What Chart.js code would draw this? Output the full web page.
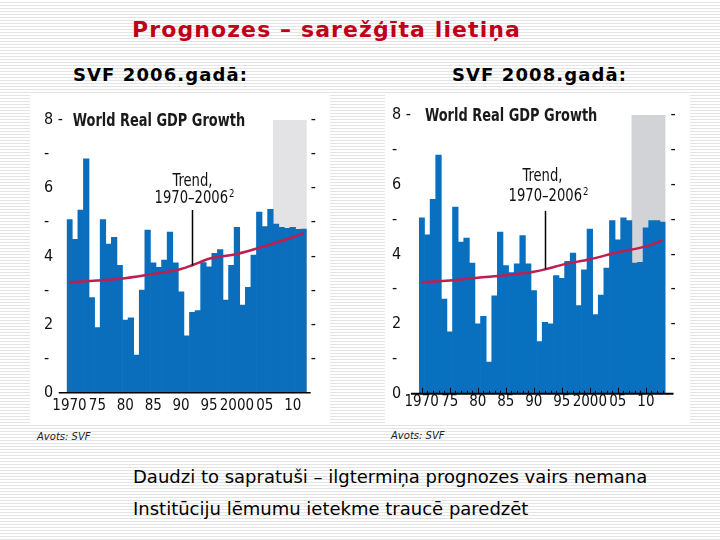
<!DOCTYPE html>
<html>
<head>
<meta charset="utf-8">
<script src="https://cdn.jsdelivr.net/npm/chart.js@4.4.0/dist/chart.umd.min.js"></script>
<style>
html,body{margin:0;padding:0;}
body{width:720px;height:540px;position:relative;overflow:hidden;
  background:repeating-linear-gradient(to bottom,#ffffff 0px,#ffffff 2px,#e4e4e4 2px,#e4e4e4 3px);
  font-family:'DejaVu Sans',sans-serif;color:#000;}
.t{position:absolute;white-space:nowrap;line-height:1;}
#title{left:132px;top:19px;font-weight:bold;font-size:22px;letter-spacing:1.1px;color:#c00018;}
.sub{top:66px;font-weight:bold;font-size:18px;letter-spacing:1.1px;}
.src{font-style:italic;font-size:10px;color:#222;}
.note{left:133px;font-size:18px;}
.box{position:absolute;background:#fff;}
canvas{display:block;}
</style>
</head>
<body>
<div class="t" id="title">Prognozes – sarežģīta lietiņa</div>
<div class="t sub" style="left:73px;">SVF 2006.gadā:</div>
<div class="t sub" style="left:452px;">SVF 2008.gadā:</div>

<div class="box" style="left:30px;top:95px;width:300px;height:330px;"><canvas id="c1" width="300" height="330"></canvas></div>
<div class="box" style="left:385px;top:95px;width:305px;height:330px;"><canvas id="c2" width="305" height="330"></canvas></div>

<div class="t src" style="left:37px;top:432px;">Avots: SVF</div>
<div class="t src" style="left:391px;top:431px;">Avots: SVF</div>
<div class="t note" style="top:468px;">Daudzi to sapratuši – ilgtermiņa prognozes vairs nemana</div>
<div class="t note" style="top:500px;">Institūciju lēmumu ietekme traucē paredzēt</div>

<script>
// ---------- DATA ----------
const years = ['1970','1971','1972','1973','1974','1975','1976','1977','1978','1979',
  '1980','1981','1982','1983','1984','1985','1986','1987','1988','1989',
  '1990','1991','1992','1993','1994','1995','1996','1997','1998','1999',
  '2000','2001','2002','2003','2004','2005','2006','2007','2008','2009',
  '2010','2011','2012','2013'];
const years2006 = years.slice(0, 43);   // 1970–2012
const years2008 = years.slice(0, 44);   // 1970–2013

const growth2006 = [5.08,4.50,5.36,6.86,2.79,1.91,5.08,4.36,4.56,3.74,
  2.13,2.20,1.10,3.01,4.77,3.81,3.68,3.89,4.71,3.81,
  2.96,1.67,2.36,2.41,3.82,3.69,4.09,4.20,2.72,3.74,
  4.85,2.57,3.09,4.04,5.30,4.87,5.38,4.95,4.85,4.82,
  4.85,4.79,4.80];
const growth2008 = [5.05,4.56,5.58,6.85,2.72,1.78,5.36,4.35,4.47,3.75,
  2.01,2.22,0.91,2.81,4.64,3.68,3.48,3.73,4.54,3.73,
  2.96,1.50,2.05,2.01,3.39,3.31,3.80,4.04,2.53,3.56,
  4.73,2.27,2.83,3.61,4.97,4.42,5.05,4.97,3.75,3.77,
  4.76,4.97,4.97,4.93];

const trendYears2006 = ['1970','1975','1980','1985','1990','1992','1995','2000','2005','2010','2012'];
const trendValues2006 = [3.24,3.29,3.36,3.48,3.63,3.74,3.93,4.07,4.30,4.56,4.68];
const trendYears2008 = ['1970','1975','1980','1985','1990','1992','1995','2000','2005','2010','2013'];
const trendValues2008 = [3.20,3.25,3.33,3.40,3.50,3.57,3.70,3.86,4.06,4.23,4.41];

const forecastFrom2006 = 2007;
const forecastFrom2008 = 2008;
const yMax = 8;
const yTickLabels = ['0','-','2','-','4','-','6','-','8 -'];
const xLabelYears = ['1970','1975','1980','1985','1990','1995','2000','2005','2010'];
const xLabelText  = ['1970','75','80','85','90','95','2000','05','10'];
const chartTitle = 'World Real GDP Growth';
const trendLabel1 = 'Trend,';
const trendLabel2 = '1970–2006';
const trendSup = '2';
const trendAnchorYear = '1992';

// ---------- STYLE ----------
const NARROW = "'DejaVu Sans Condensed','Liberation Sans Narrow','Arial Narrow',sans-serif";

function scaledText(ctx, text, x, y, sx, align) {
  // draws text horizontally compressed by sx, anchored at x
  const w = ctx.measureText(text).width * sx;
  let left = x;
  if (align === 'center') left = x - w / 2;
  ctx.save();
  ctx.translate(left, y);
  ctx.scale(sx, 1);
  ctx.textAlign = 'left';
  ctx.fillText(text, 0, 0);
  ctx.restore();
  return w;
}

function makeChart(id, cfg) {
  const labels = cfg.years;
  const shade = labels.map(y => (+y >= cfg.forecastFrom ? yMax : null));
  const trend = cfg.trendYears.map((y, i) => ({x: y, y: cfg.trendValues[i]}));

  const deco = {
    id: 'deco' + id,
    afterDatasetsDraw(chart) {
      const ctx = chart.ctx, xs = chart.scales.x, ys = chart.scales.y, ca = chart.chartArea;
      ctx.save();
      ctx.strokeStyle = '#000';
      ctx.lineWidth = cfg.axisWidth;
      ctx.beginPath();
      ctx.moveTo(ca.left - cfg.axisExtL, ys.getPixelForValue(0));
      ctx.lineTo(ca.right + cfg.axisExtR, ys.getPixelForValue(0));
      ctx.stroke();
      if (cfg.yearTicks) {
        ctx.lineWidth = 1;
        const y0 = ys.getPixelForValue(0);
        labels.forEach((yr, i) => {
          const x = Math.round(xs.getPixelForValue(i)) + 0.5;
          const h = (+yr % 5 === 0) ? 6 : 3;
          ctx.beginPath(); ctx.moveTo(x, y0); ctx.lineTo(x, y0 - h); ctx.stroke();
        });
      }
      const ai = labels.indexOf(trendAnchorYear);
      const ax = Math.round(xs.getPixelForValue(ai)) + 0.5;
      const tv = cfg.trendValues[cfg.trendYears.indexOf(trendAnchorYear)];
      ctx.lineWidth = 1.5;
      ctx.beginPath();
      ctx.moveTo(ax, ys.getPixelForValue(cfg.lineTop));
      ctx.lineTo(ax, ys.getPixelForValue(tv));
      ctx.stroke();

      ctx.fillStyle = '#111';
      ctx.textBaseline = 'alphabetic';
      ctx.font = '17px ' + NARROW;
      scaledText(ctx, trendLabel1, ax + cfg.t1dx, ys.getPixelForValue(cfg.t1v), 0.86, 'center');
      const w2 = ctx.measureText(trendLabel2).width * 0.86;
      ctx.font = '11px ' + NARROW;
      const ws = ctx.measureText(trendSup).width * 0.86;
      const start = ax + cfg.t2dx - (w2 + ws + 1) / 2;
      const by = ys.getPixelForValue(cfg.t2v);
      ctx.font = '17px ' + NARROW;
      scaledText(ctx, trendLabel2, start, by, 0.86, 'left');
      ctx.font = '11px ' + NARROW;
      scaledText(ctx, trendSup, start + w2 + 1, by - 6, 0.86, 'left');

      ctx.font = 'bold 18px ' + NARROW;
      ctx.fillStyle = '#1a1a1a';
      scaledText(ctx, chartTitle, ca.left + 6, ys.getPixelForValue(yMax) + 6, 0.8, 'left');
      ctx.restore();
    }
  };

  return new Chart(document.getElementById(id), {
    type: 'bar',
    data: {
      labels: labels,
      datasets: [
        {type: 'line', data: trend, borderColor: '#bd1f4f', borderWidth: 2.5,
         pointRadius: 0, fill: false, cubicInterpolationMode: 'monotone', order: 1},
        {data: cfg.values, backgroundColor: cfg.barColor, borderWidth: 0,
         barPercentage: 1, categoryPercentage: 1, grouped: false, order: 2},
        {data: shade, backgroundColor: cfg.shadeColor, borderWidth: 0,
         barPercentage: 1, categoryPercentage: 1, grouped: false, order: 3}
      ]
    },
    options: {
      responsive: false,
      animation: false,
      events: [],
      layout: {padding: {left: cfg.padLeft, top: cfg.padTop, right: 0, bottom: 0}},
      plugins: {legend: {display: false}, tooltip: {enabled: false}, title: {display: false}},
      scales: {
        x: {
          type: 'category',
          grid: {display: false, drawTicks: false, tickLength: 0},
          border: {display: false},
          ticks: {
            autoSkip: false, maxRotation: 0, minRotation: 0, padding: cfg.xPad,
            color: '#111', font: {family: NARROW, size: 15},
            callback: function (v, i) {
              const k = xLabelYears.indexOf(labels[i]);
              return k >= 0 ? xLabelText[k] : '';
            }
          },
          afterFit: s => { s.height = cfg.xHeight; }
        },
        y: {
          position: 'left', min: 0, max: yMax,
          grid: {display: false, drawTicks: false, tickLength: 0},
          border: {display: false},
          ticks: {
            stepSize: 1, padding: 0, crossAlign: 'far', color: '#111',
            font: {family: NARROW, size: 16},
            callback: v => yTickLabels[v]
          },
          afterFit: s => { s.width = cfg.yWidth; }
        },
        y2: {
          position: 'right', min: 0, max: yMax,
          grid: {display: false, drawTicks: false, tickLength: 0},
          border: {display: false},
          ticks: {
            stepSize: 1, padding: cfg.y2Pad, color: '#111',
            font: {family: NARROW, size: 16},
            callback: v => (v === 0 ? '' : '-')
          },
          afterFit: s => { s.width = cfg.y2Width; }
        }
      }
    },
    plugins: [deco]
  });
}

makeChart('c1', {
  years: years2006, values: growth2006, forecastFrom: forecastFrom2006,
  trendYears: trendYears2006, trendValues: trendValues2006,
  barColor: '#0a6ebd', shadeColor: '#e3e3e6',
  padLeft: 14, padTop: 25, yWidth: 22.7, y2Width: 23.3, xHeight: 32.3, xPad: 4, y2Pad: 4,
  axisWidth: 1.5, axisExtL: 8, axisExtR: 4, yearTicks: false,
  lineTop: 5.36, t1v: 6.07, t2v: 5.56, t1dx: 0, t2dx: 2
});
makeChart('c2', {
  years: years2008, values: growth2008, forecastFrom: forecastFrom2008,
  trendYears: trendYears2008, trendValues: trendValues2008,
  barColor: '#0870bf', shadeColor: '#d2d3d6',
  padLeft: 7, padTop: 20, yWidth: 26.9, y2Width: 24.5, xHeight: 31.2, xPad: -1, y2Pad: 5,
  axisWidth: 2, axisExtL: 8, axisExtR: 8, yearTicks: true,
  lineTop: 5.25, t1v: 6.1, t2v: 5.53, t1dx: -3, t2dx: 3
});
</script>
</body>
</html>
